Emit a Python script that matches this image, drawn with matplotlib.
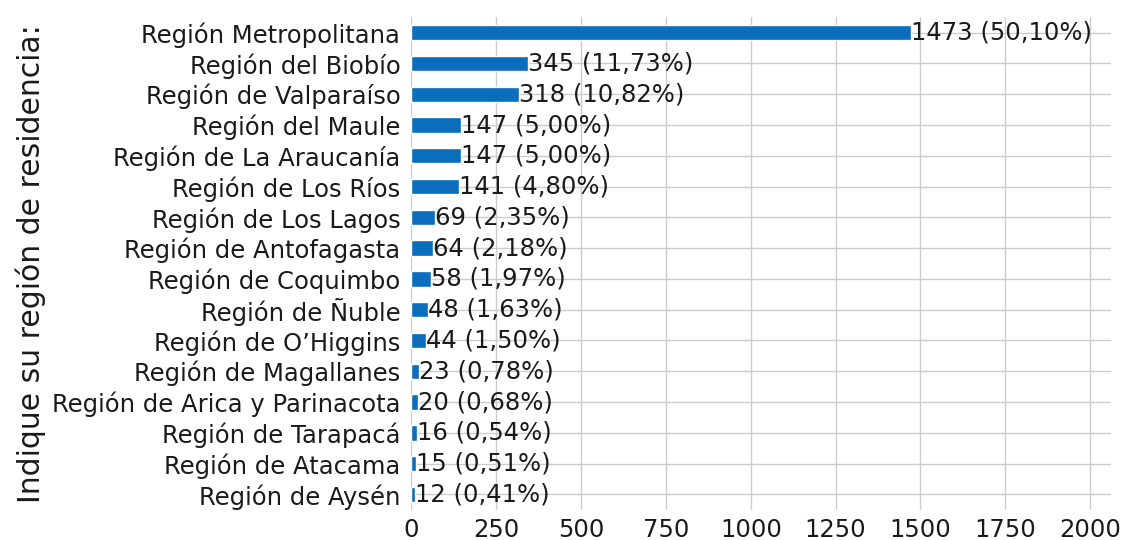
import matplotlib
matplotlib.use('Agg')
import matplotlib.pyplot as plt
import seaborn as sns

# ── Data ──────────────────────────────────────────────────────────────────
regions = [
    "Región Metropolitana", "Región del Biobío", "Región de Valparaíso",
    "Región del Maule", "Región de La Araucanía", "Región de Los Ríos",
    "Región de Los Lagos", "Región de Antofagasta", "Región de Coquimbo",
    "Región de Ñuble", "Región de O’Higgins", "Región de Magallanes",
    "Región de Arica y Parinacota", "Región de Tarapacá", "Región de Atacama",
    "Región de Aysén",
]
counts = [1473, 345, 318, 147, 147, 141, 69, 64, 58, 48, 44, 23, 20, 16, 15, 12]
percents = ["50,10", "11,73", "10,82", "5,00", "5,00", "4,80", "2,35", "2,18",
            "1,97", "1,63", "1,50", "0,78", "0,68", "0,54", "0,51", "0,41"]

sns.set_theme(style="whitegrid")
plt.rcParams['font.family'] = ['DejaVu Sans']

fig, ax = plt.subplots(figsize=(11.24, 5.4), dpi=100)
fig.subplots_adjust(left=0.366, right=0.988, top=0.968, bottom=0.056)

ypos = list(range(len(regions)))
ax.barh(ypos, counts, height=0.5, color='#0a6ebd')
ax.set_yticks(ypos)
ax.set_yticklabels(regions, fontsize=17.5, color='#1a1a1a')
ax.set_ylim(len(regions) - 0.5, -0.5)
ax.set_xlim(0, 2060)
ax.set_xticks([0, 250, 500, 750, 1000, 1250, 1500, 1750, 2000])
ax.tick_params(axis='x', labelsize=17.5, pad=0, labelcolor='#1a1a1a')
ax.tick_params(axis='y', pad=2)

# value + share labels at the end of each bar
for y, c, p in zip(ypos, counts, percents):
    ax.text(c, y, f"{c} ({p}%)", ha='left', va='center', fontsize=17.5, color='#1a1a1a')

ax.set_ylabel("Indique su región de residencia:", fontsize=21.5, color='#1a1a1a')
for s in ax.spines.values():
    s.set_visible(False)

fig.savefig("out.png", dpi=100)
